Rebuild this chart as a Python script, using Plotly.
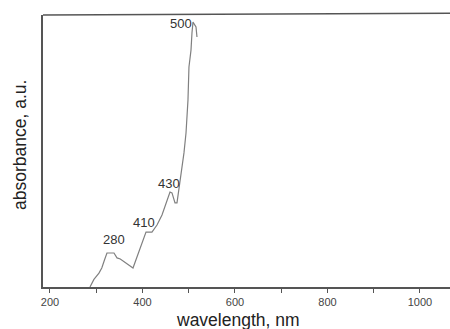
import plotly.graph_objects as go

wavelength = [286.5, 295.0, 305.9, 312.0, 318.0, 323.2, 338.4, 344.9, 352.0, 364.3,
              372.0, 379.5, 388.1, 398.9, 407.6, 420.5, 431.4, 442.2, 453.0, 459.5,
              463.8, 470.3, 474.6, 478.9, 483.2, 489.7, 494.1, 498.4, 500.5, 504.9,
              507.0, 509.2, 515.7, 517.8]
absorbance = [0.0, 0.028, 0.051, 0.070, 0.100, 0.125, 0.125, 0.107, 0.103, 0.088,
              0.080, 0.070, 0.110, 0.162, 0.202, 0.202, 0.228, 0.265, 0.320, 0.349,
              0.346, 0.309, 0.309, 0.357, 0.419, 0.493, 0.566, 0.688, 0.809, 0.871,
              0.934, 0.974, 0.956, 0.919]

peak_labels = ["280", "410", "430", "500"]
peak_x = [338.0, 404.0, 458.0, 483.0]
peak_y = [0.173, 0.236, 0.382, 0.97]

x_ticks = [200, 400, 600, 800, 1000]

font = "Liberation Sans, Arial, sans-serif"

fig = go.Figure()
fig.add_trace(go.Scatter(x=wavelength, y=absorbance, mode="lines",
                         line=dict(color="#808080", width=1.2), hoverinfo="skip",
                         showlegend=False))
for t, x, y in zip(peak_labels, peak_x, peak_y):
    fig.add_annotation(x=x, y=y, text=t, showarrow=False,
                       font=dict(family=font, size=13, color="#333333"))

fig.add_shape(type="line", xref="paper", yref="paper", x0=0, x1=1, y0=1, y1=1.006,
              line=dict(color="#555555", width=1.5))

fig.add_annotation(xref="paper", yref="paper", x=(238 - 43) / 407, y=-(320 - 287) / 272,
                   text="wavelength, nm", showarrow=False, yanchor="middle",
                   font=dict(family=font, size=17.5, color="#222222"))
fig.add_annotation(xref="paper", yref="paper", x=-(43 - 20) / 407, y=(287 - 145) / 272,
                   text="absorbance, a.u.", showarrow=False, textangle=-90,
                   xanchor="center", yanchor="middle",
                   font=dict(family=font, size=17.5, color="#222222"))

fig.update_layout(
    width=450, height=329,
    margin=dict(l=43, r=0, t=15, b=42),
    paper_bgcolor="white", plot_bgcolor="white",
    font=dict(family=font),
    xaxis=dict(range=[184.9, 1064.9], tickvals=x_ticks,
               ticktext=[str(v) for v in x_ticks],
               showgrid=False, zeroline=False, showline=True,
               linecolor="#555555", linewidth=1.5,
               ticks="outside", ticklen=4, tickcolor="#555555", tickwidth=1,
               tickfont=dict(family=font, size=11, color="#444444"),
               minor=dict(ticks="outside", ticklen=4, dtick=100, tick0=0,
                          tickcolor="#555555", tickwidth=1, showgrid=False)),
    yaxis=dict(range=[0, 1], showgrid=False, zeroline=False, showline=True,
               linecolor="#555555", linewidth=1.5, showticklabels=False, ticks=""),
)

fig.write_html("out.html", config={"displayModeBar": False},
               post_script="document.body.style.margin='0';document.body.style.overflow='hidden';")
